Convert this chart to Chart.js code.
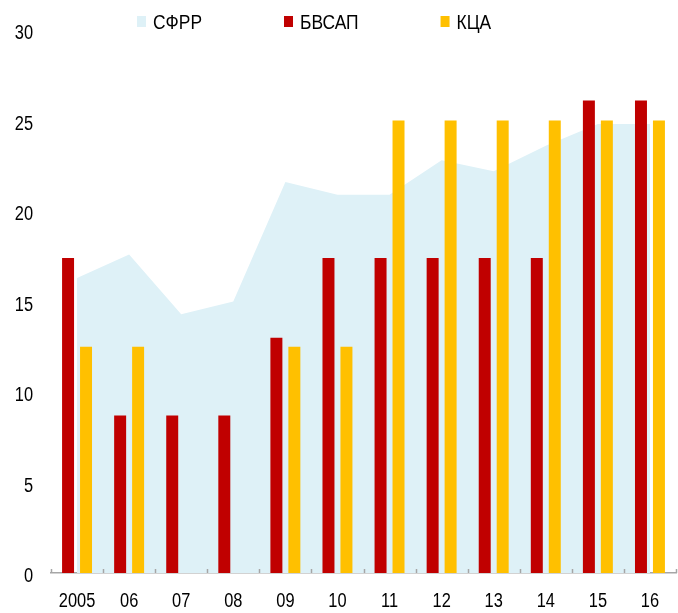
<!DOCTYPE html>
<html>
<head>
<meta charset="utf-8">
<script src="https://cdn.jsdelivr.net/npm/chart.js@4/dist/chart.umd.min.js"></script>
<style>
    html, body { margin: 0; padding: 0; background: #fff; }
    #wrap { width: 678px; height: 613px; position: relative; }
</style>
</head>
<body>
<div id="wrap"><canvas id="chart"></canvas></div>
<script>
// Годы (подписи оси X)
const years = ['2005', '06', '07', '08', '09', '10', '11', '12', '13', '14', '15', '16'];

// Ряды данных
const sfrr  = [16.3, 17.6, 14.3, 15.0, 21.6, 20.9, 20.9, 22.8, 22.2, 23.6, 24.8, 24.8];
const bvsap = [17.4, 8.7, 8.7, 8.7, 13.0, 17.4, 17.4, 17.4, 17.4, 17.4, 26.1, 26.1];
const kca   = [12.5, 12.5, null, null, 12.5, 12.5, 25, 25, 25, 25, 25, 25];

// Деления оси Y
const yMin = 0;
const yMax = 30;
const yStep = 5;

const font = '"Liberation Sans", Arial, sans-serif';

// Узкий текст: обычный шрифт, сжатый по горизонтали
function narrowText(ctx, text, x, y, sx) {
    ctx.save();
    ctx.translate(x, y);
    ctx.scale(sx, 1);
    ctx.fillText(text, 0, 0);
    ctx.restore();
}

// Легенда сверху, рисуется вручную
const topLegend = {
    id: 'topLegend',
    afterDraw(chart) {
        const ctx = chart.ctx;
        const sx = 0.87;
        ctx.save();
        ctx.font = '20px ' + font;
        ctx.textBaseline = 'alphabetic';
        ctx.textAlign = 'left';
        let x = 137;
        chart.data.datasets.forEach(ds => {
            ctx.fillStyle = ds.legendColor;
            ctx.fillRect(x, 16, 9, 11);
            ctx.fillStyle = '#000';
            narrowText(ctx, ds.label, x + 16, 29, sx);
            x += 16 + ctx.measureText(ds.label).width * sx + 82;
        });
        ctx.restore();
    }
};

// Подписи делений (узкие), поверх невидимых подписей Chart.js
const axisLabels = {
    id: 'axisLabels',
    afterDraw(chart) {
        const ctx = chart.ctx;
        const xs = chart.scales.x;
        const ys = chart.scales.y;
        const sx = 0.82;
        ctx.save();
        ctx.font = '20px ' + font;
        ctx.fillStyle = '#000';
        ctx.textBaseline = 'middle';

        ctx.textAlign = 'center';
        xs.ticks.forEach((t, i) => {
            narrowText(ctx, t.label, xs.getPixelForTick(i), xs.top + 28, sx);
        });

        ctx.textAlign = 'right';
        ys.ticks.forEach((t, i) => {
            narrowText(ctx, t.label, chart.chartArea.left - 18, ys.getPixelForTick(i) + 3.5, sx);
        });
        ctx.restore();
    }
};

// Короткие засечки на оси X (внутрь)
const innerTicks = {
    id: 'innerTicks',
    afterDatasetsDraw(chart) {
        const xs = chart.scales.x;
        const ctx = chart.ctx;
        const step = (xs.right - xs.left) / years.length;
        ctx.save();
        ctx.strokeStyle = '#a6a6a6';
        ctx.lineWidth = 1.5;
        for (let i = 0; i <= years.length; i++) {
            const px = Math.round(xs.left + i * step) + 0.5;
            ctx.beginPath();
            ctx.moveTo(px, xs.top);
            ctx.lineTo(px, xs.top - 4);
            ctx.stroke();
        }
        ctx.restore();
    }
};

document.addEventListener('DOMContentLoaded', function() {
    const ctx = document.getElementById('chart').getContext('2d');
    new Chart(ctx, {
        type: 'bar',
        data: {
            labels: years,
            datasets: [
                {
                    type: 'line',
                    label: 'СФРР',
                    data: sfrr,
                    legendColor: '#def1f7',
                    backgroundColor: '#def1f7',
                    borderWidth: 0,
                    pointRadius: 0,
                    tension: 0,
                    fill: 'origin',
                    order: 2
                },
                {
                    label: 'БВСАП',
                    data: bvsap,
                    legendColor: '#c00000',
                    backgroundColor: '#c00000',
                    categoryPercentage: 0.69,
                    barPercentage: 0.667,
                    order: 1
                },
                {
                    label: 'КЦА',
                    data: kca,
                    legendColor: '#ffc000',
                    backgroundColor: '#ffc000',
                    categoryPercentage: 0.69,
                    barPercentage: 0.667,
                    order: 1
                }
            ]
        },
        options: {
            responsive: true,
            maintainAspectRatio: false,
            animation: false,
            layout: {
                padding: { top: 18, left: 13, right: 2, bottom: 0 }
            },
            scales: {
                x: {
                    afterFit(scale) { scale.height = 40; },
                    grid: { display: false, drawTicks: false },
                    border: { display: true, color: '#a6a6a6', width: 1.5 },
                    ticks: {
                        color: 'rgba(0,0,0,0)',
                        font: { family: font, size: 20 },
                        padding: 16,
                        maxRotation: 0,
                        autoSkip: false
                    }
                },
                y: {
                    min: yMin,
                    max: yMax,
                    afterFit(scale) { scale.width = 38; },
                    grid: { display: false, drawTicks: false },
                    border: { display: false },
                    ticks: {
                        stepSize: yStep,
                        color: 'rgba(0,0,0,0)',
                        font: { family: font, size: 20 },
                        padding: 18
                    }
                }
            },
            plugins: {
                legend: { display: false },
                tooltip: { enabled: false }
            }
        },
        plugins: [topLegend, axisLabels, innerTicks]
    });
});
</script>
</body>
</html>
